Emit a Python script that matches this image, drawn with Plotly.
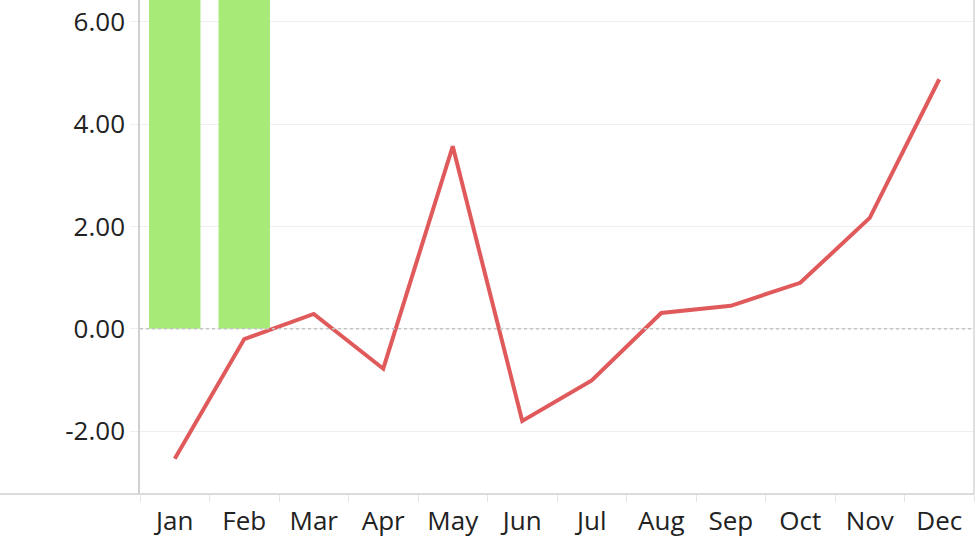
import plotly.graph_objects as go

months = ["Jan", "Feb", "Mar", "Apr", "May", "Jun",
          "Jul", "Aug", "Sep", "Oct", "Nov", "Dec"]
# the two bars run past the top of the view; their tops are not visible
bar_months = ["Jan", "Feb"]
bar_values = [8.6, 8.1]
line_values = [-2.54, -0.2, 0.29, -0.78, 3.57, -1.8,
               -1.01, 0.31, 0.45, 0.9, 2.17, 4.88]
y_ticks = [-2, 0, 2, 4, 6]

fig = go.Figure()
fig.add_trace(go.Bar(x=bar_months, y=bar_values, marker_color="#a8ea78",
                     marker_line_width=0, width=0.74))
fig.add_trace(go.Scatter(x=months, y=line_values, mode="lines",
                         line=dict(color="#e05a5c", width=4)))

# dotted zero line
fig.add_shape(type="line", xref="paper", yref="y", x0=0, x1=1, y0=0, y1=0,
              line=dict(color="#c4c4c4", width=1.5, dash="dot"), layer="above")
# bottom axis line extends across full width
fig.add_shape(type="line", xref="paper", yref="paper", x0=-0.2, x1=1, y0=0, y1=0,
              line=dict(color="#cfcfcf", width=1.5))
# right border
fig.add_shape(type="line", xref="paper", yref="paper", x0=1, x1=1, y0=0, y1=1,
              line=dict(color="#d6d6d6", width=1.5))

fig.update_layout(
    width=980, height=552,
    margin=dict(l=140, r=6, t=0, b=58),
    plot_bgcolor="white", paper_bgcolor="white",
    showlegend=False,
    font=dict(family="Open Sans", size=26, color="#222222"),
    xaxis=dict(categoryorder="array", categoryarray=months,
               range=[-0.5, 11.5], showgrid=False,
               ticks="outside", tickson="boundaries", ticklen=7,
               tickcolor="#e4e4e4", showline=False, zeroline=False,
               ticklabelstandoff=9, automargin=False),
    yaxis=dict(range=[-3.23, 6.43], tickvals=y_ticks,
               ticktext=["%.2f" % v for v in y_ticks],
               ticklabeloverflow="allow", automargin=False,
               showgrid=True, gridcolor="#efefef", gridwidth=1,
               ticks="outside", ticklen=8, tickcolor="#efefef",
               showline=True, linecolor="#d0d0d0", linewidth=1.5,
               zeroline=False),
)

# drop the page's default body margin so the chart fills the window
fig.write_html("out.html", config={"displayModeBar": False},
               post_script="document.body.style.margin = '0';")
